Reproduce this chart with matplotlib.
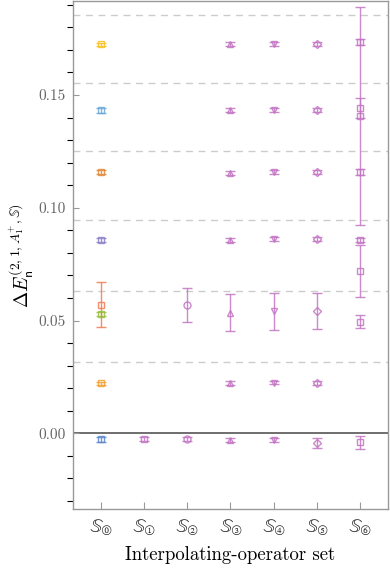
import numpy as np
import matplotlib.pyplot as plt
from matplotlib.ticker import MultipleLocator

plt.rcParams.update({'font.family': 'serif', 'font.serif': ['cmr10'],
                     'mathtext.fontset': 'cm', 'axes.formatter.use_mathtext': True})

#%% Data
# non-interacting levels (dashed)
levels = [0.0316, 0.0632, 0.0946, 0.1251, 0.1553, 0.1853]

set_labels = ['⓪', '①', '②', '③', '④', '⑤', '⑥']

vals0 = [-0.0027, 0.0221, 0.0530, 0.0570, 0.0858, 0.1158, 0.1432, 0.1724]
errs0 = [0.0010, 0.0008, 0.0008, 0.0100, 0.0008, 0.0008, 0.0010, 0.0008]

vals1 = [-0.0025]
errs1 = [0.0008]

vals2 = [-0.0024, 0.0570]
errs2 = [0.0008, 0.0075]

vals3 = [-0.0031, 0.0222, 0.0535, 0.0858, 0.1155, 0.1432, 0.1724]
errs3 = [0.0008, 0.0008, 0.0082, 0.0008, 0.0008, 0.0009, 0.0009]

vals4 = [-0.0031, 0.0225, 0.0540, 0.0862, 0.1158, 0.1432, 0.1724]
errs4 = [0.0008, 0.0008, 0.0080, 0.0008, 0.0008, 0.0009, 0.0009]

vals5 = [-0.0045, 0.0222, 0.0543, 0.0862, 0.1158, 0.1432, 0.1724]
errs5 = [0.0022, 0.0008, 0.0080, 0.0008, 0.0008, 0.0009, 0.0009]

vals6 = [-0.0040, 0.0495, 0.0720, 0.0858, 0.1158, 0.1405, 0.1441, 0.1735]
errs6 = [0.0030, 0.0030, 0.0117, 0.0010, 0.0012, 0.0483, 0.0045, 0.0015]

#%% Style
colors0 = ['#5a86cc', '#f0a030', '#94c040', '#f07a52', '#8a80c8', '#e08838', '#6aa8d8', '#f8c020']
purple = '#c374c3'
markers = ['s', 's', 'o', '^', 'v', 'D', 's']

#%% Plotting
fig = plt.figure(figsize=(3.9, 5.72), dpi=100)
ax = fig.add_axes([0.187, 0.110, 0.808, 0.888])

for lv in levels:
    ax.axhline(lv, color='#cccccc', lw=1.0, ls=(0, (5, 4)), zorder=0)
ax.axhline(0, color='#555555', lw=1.2, zorder=1)

def draw(x, vals, errs, cols, marker):
    for v, e, c in zip(vals, errs, cols):
        ax.errorbar(x, v, yerr=e, fmt=marker, mfc='none', mec=c, color=c,
                    ms=5 if marker != 'D' else 4, mew=1.0, elinewidth=1.0,
                    capsize=3.5, capthick=1.0, alpha=0.85, zorder=3)

all_vals = [vals0, vals1, vals2, vals3, vals4, vals5, vals6]
all_errs = [errs0, errs1, errs2, errs3, errs4, errs5, errs6]
for i, (vals, errs) in enumerate(zip(all_vals, all_errs)):
    cols = colors0 if i == 0 else [purple]*len(vals)
    draw(i, vals, errs, cols, markers[i])

ax.set_xlim(-0.65, 6.65)
ax.set_ylim(-0.0336, 0.1916)
ax.set_xticks(range(len(set_labels)))
ax.set_xticklabels([r'$\mathbb{S}_{\mathrm{%s}}$' % s for s in set_labels])
for t in ax.get_xticklabels():
    t.set_math_fontfamily('dejavuserif')
    t.set_fontsize(14)
ax.yaxis.set_major_locator(MultipleLocator(0.05))
ax.yaxis.set_minor_locator(MultipleLocator(0.01))
ax.yaxis.set_major_formatter(plt.FormatStrFormatter('%.2f'))
ax.tick_params(axis='both', direction='in', color='#999999', labelcolor='#666666')
ax.tick_params(axis='y', which='both', length=4, width=0.8, labelsize=11, pad=5)
ax.tick_params(axis='x', length=5, width=0.8, pad=6, labelcolor='#222222')
for s in ax.spines.values():
    s.set_color('#999999')
    s.set_linewidth(1.0)

ax.set_xlabel('Interpolating-operator set', fontsize=13.5, labelpad=6)
ax.set_ylabel(r'$\Delta E_{\mathsf{n}}^{(2,1,A_1^{+},\mathbb{S})}$', fontsize=14, labelpad=2)

plt.savefig('out.png', dpi=100)
